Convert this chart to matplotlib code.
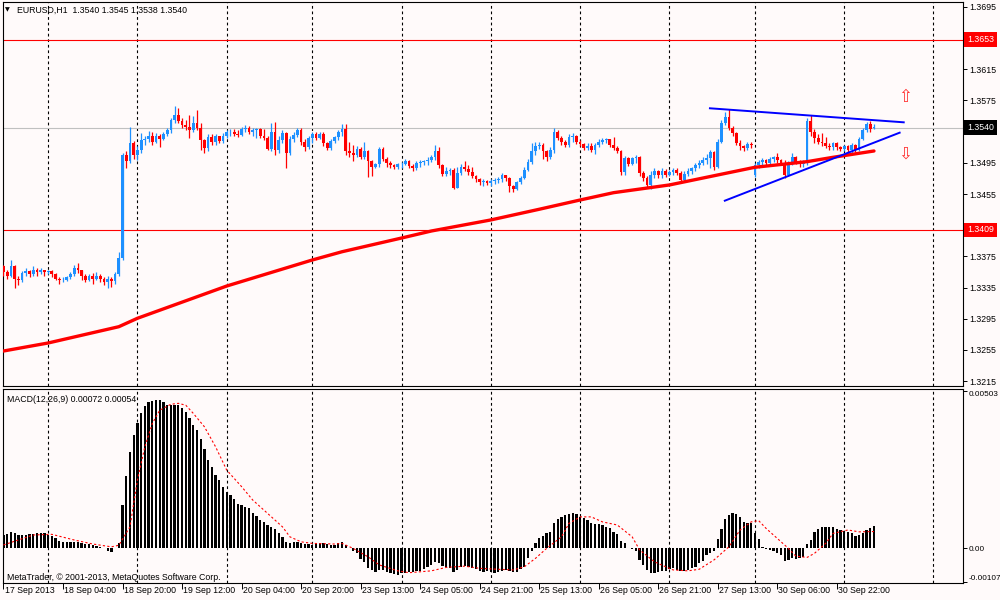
"""
EURUSD H1 chart (MetaTrader style): candles, moving average, trend lines,
price levels and a MACD(12,26,9) sub-window.
"""

import matplotlib

matplotlib.use("Agg")
import matplotlib.pyplot as plt
import matplotlib.transforms as mtransforms

plt.rcParams["font.family"] = ["Liberation Sans", "DejaVu Sans"]

# --------------------------------------------------------------------------- #
# Data. Bar index 0 = 17 Sep 2013 12:00.
# --------------------------------------------------------------------------- #
closes = [
    1.3355, 1.3350, 1.3362, 1.3346, 1.3345, 1.3354, 1.3356, 1.3352, 1.3358, 1.3355,
    1.3357, 1.3355, 1.3356, 1.3352, 1.3346, 1.3344, 1.3345, 1.3348, 1.3352, 1.3360,
    1.3357, 1.3350, 1.3345, 1.3350, 1.3346, 1.3350, 1.3346, 1.3342, 1.3346, 1.3343,
    1.3352, 1.3373, 1.3505, 1.3497, 1.3520, 1.3505, 1.3512, 1.3524, 1.3526, 1.3529,
    1.3522, 1.3530, 1.3525, 1.3532, 1.3537, 1.3550, 1.3556, 1.3549, 1.3544, 1.3541,
    1.3537, 1.3546, 1.3540, 1.3524, 1.3514, 1.3528, 1.3522, 1.3529, 1.3523, 1.3530,
    1.3534, 1.3535, 1.3532, 1.3531, 1.3538, 1.3540, 1.3535, 1.3537, 1.3538, 1.3530,
    1.3527, 1.3513, 1.3535, 1.3512, 1.3524, 1.3533, 1.3508, 1.3526, 1.3531, 1.3537,
    1.3522, 1.3515, 1.3527, 1.3532, 1.3527, 1.3532, 1.3520, 1.3514, 1.3523, 1.3528,
    1.3534, 1.3538, 1.3510, 1.3508, 1.3505, 1.3513, 1.3502, 1.3510, 1.3497, 1.3490,
    1.3493, 1.3513, 1.3500, 1.3495, 1.3492, 1.3490, 1.3493, 1.3494, 1.3497, 1.3491,
    1.3489, 1.3495, 1.3496, 1.3497, 1.3498, 1.3502, 1.3510, 1.3492, 1.3481, 1.3485,
    1.3486, 1.3463, 1.3482, 1.3490, 1.3487, 1.3483, 1.3478, 1.3474, 1.3470, 1.3472,
    1.3469, 1.3472, 1.3473, 1.3474, 1.3479, 1.3475, 1.3465, 1.3461, 1.3470, 1.3476,
    1.3486, 1.3496, 1.3510, 1.3517, 1.3518, 1.3510, 1.3503, 1.3512, 1.3534, 1.3527,
    1.3522, 1.3518, 1.3528, 1.3530, 1.3522, 1.3519, 1.3514, 1.3517, 1.3512, 1.3518,
    1.3522, 1.3524, 1.3525, 1.3518, 1.3514, 1.3510, 1.3483, 1.3501, 1.3494, 1.3501,
    1.3502, 1.3482, 1.3476, 1.3467, 1.3480, 1.3484, 1.3479, 1.3485, 1.3480, 1.3483,
    1.3486, 1.3482, 1.3473, 1.3481, 1.3485, 1.3488, 1.3492, 1.3495, 1.3499, 1.3501,
    1.3509, 1.3490, 1.3522, 1.3546, 1.3554, 1.3540, 1.3533, 1.3521, 1.3516, 1.3514,
    1.3519, 1.3518, 1.3492, 1.3496, 1.3498, 1.3495, 1.3500, 1.3502, 1.3498, 1.3495,
    1.3480, 1.3494, 1.3502, 1.3496, 1.3493, 1.3495, 1.3549, 1.3534, 1.3527, 1.3522,
    1.3520, 1.3516, 1.3515, 1.3520, 1.3515, 1.3513, 1.3516, 1.3511, 1.3518, 1.3512,
    1.3526, 1.3537, 1.3545, 1.3538, 1.3540,
]

highs = [
    1.3364, 1.3358, 1.3370, 1.3364, 1.3350, 1.3356, 1.3360, 1.3358, 1.3362, 1.3360,
    1.3360, 1.3358, 1.3358, 1.3357, 1.3354, 1.3348, 1.3348, 1.3350, 1.3355, 1.3364,
    1.3366, 1.3358, 1.3352, 1.3352, 1.3354, 1.3355, 1.3352, 1.3348, 1.3350, 1.3348,
    1.3355, 1.3380, 1.3508, 1.3510, 1.3541, 1.3523, 1.3516, 1.3533, 1.3530, 1.3536,
    1.3535, 1.3533, 1.3532, 1.3535, 1.3540, 1.3553, 1.3568, 1.3565, 1.3552, 1.3550,
    1.3556, 1.3555, 1.3563, 1.3546, 1.3526, 1.3532, 1.3532, 1.3532, 1.3530, 1.3533,
    1.3537, 1.3538, 1.3538, 1.3537, 1.3541, 1.3543, 1.3542, 1.3540, 1.3540, 1.3540,
    1.3539, 1.3530, 1.3546, 1.3548, 1.3530, 1.3537, 1.3535, 1.3530, 1.3535, 1.3540,
    1.3540, 1.3525, 1.3530, 1.3535, 1.3535, 1.3535, 1.3534, 1.3522, 1.3526, 1.3530,
    1.3537, 1.3545, 1.3545, 1.3522, 1.3518, 1.3516, 1.3515, 1.3522, 1.3512, 1.3499,
    1.3495, 1.3515, 1.3515, 1.3502, 1.3497, 1.3494, 1.3495, 1.3496, 1.3500, 1.3498,
    1.3494, 1.3497, 1.3498, 1.3499, 1.3502, 1.3505, 1.3518, 1.3515, 1.3494, 1.3490,
    1.3488, 1.3488, 1.3490, 1.3493, 1.3497, 1.3492, 1.3490, 1.3480, 1.3476, 1.3474,
    1.3473, 1.3474, 1.3476, 1.3477, 1.3482, 1.3480, 1.3477, 1.3467, 1.3472, 1.3478,
    1.3490, 1.3500, 1.3520, 1.3522, 1.3522, 1.3520, 1.3512, 1.3515, 1.3540, 1.3537,
    1.3530, 1.3524, 1.3532, 1.3533, 1.3531, 1.3524, 1.3521, 1.3520, 1.3521, 1.3520,
    1.3525, 1.3527, 1.3527, 1.3526, 1.3528, 1.3516, 1.3512, 1.3504, 1.3503, 1.3503,
    1.3505, 1.3504, 1.3485, 1.3478, 1.3484, 1.3488, 1.3486, 1.3488, 1.3487, 1.3486,
    1.3489, 1.3488, 1.3484, 1.3484, 1.3488, 1.3490, 1.3495, 1.3498, 1.3503, 1.3506,
    1.3512, 1.3510, 1.3525, 1.3550, 1.3560, 1.3564, 1.3542, 1.3535, 1.3524, 1.3518,
    1.3522, 1.3522, 1.3495, 1.3499, 1.3501, 1.3500, 1.3502, 1.3504, 1.3508, 1.3500,
    1.3498, 1.3497, 1.3508, 1.3504, 1.3498, 1.3498, 1.3552, 1.3557, 1.3538, 1.3532,
    1.3533, 1.3528, 1.3520, 1.3522, 1.3522, 1.3517, 1.3518, 1.3518, 1.3520, 1.3519,
    1.3528, 1.3540, 1.3548, 1.3549, 1.3545,
]

lows = [
    1.3350, 1.3346, 1.3348, 1.3335, 1.3338, 1.3342, 1.3350, 1.3348, 1.3350, 1.3350,
    1.3352, 1.3350, 1.3352, 1.3348, 1.3344, 1.3340, 1.3342, 1.3343, 1.3346, 1.3350,
    1.3354, 1.3345, 1.3342, 1.3343, 1.3340, 1.3344, 1.3342, 1.3338, 1.3335, 1.3336,
    1.3340, 1.3350, 1.3370, 1.3489, 1.3495, 1.3500, 1.3499, 1.3508, 1.3518, 1.3522,
    1.3518, 1.3520, 1.3515, 1.3524, 1.3530, 1.3533, 1.3546, 1.3546, 1.3540, 1.3537,
    1.3527, 1.3535, 1.3537, 1.3512, 1.3507, 1.3510, 1.3518, 1.3518, 1.3520, 1.3521,
    1.3527, 1.3529, 1.3529, 1.3528, 1.3529, 1.3534, 1.3532, 1.3530, 1.3527, 1.3527,
    1.3524, 1.3511, 1.3510, 1.3505, 1.3507, 1.3520, 1.3489, 1.3505, 1.3522, 1.3528,
    1.3518, 1.3510, 1.3513, 1.3520, 1.3524, 1.3525, 1.3517, 1.3511, 1.3512, 1.3520,
    1.3524, 1.3530, 1.3505, 1.3503, 1.3497, 1.3502, 1.3500, 1.3500, 1.3477, 1.3478,
    1.3488, 1.3490, 1.3497, 1.3490, 1.3488, 1.3487, 1.3487, 1.3489, 1.3492, 1.3488,
    1.3485, 1.3486, 1.3490, 1.3492, 1.3492, 1.3496, 1.3498, 1.3488, 1.3478, 1.3478,
    1.3480, 1.3462, 1.3463, 1.3480, 1.3484, 1.3480, 1.3475, 1.3470, 1.3467, 1.3465,
    1.3466, 1.3465, 1.3468, 1.3469, 1.3470, 1.3472, 1.3458, 1.3458, 1.3460, 1.3468,
    1.3474, 1.3484, 1.3494, 1.3505, 1.3513, 1.3500, 1.3497, 1.3500, 1.3508, 1.3524,
    1.3518, 1.3515, 1.3515, 1.3522, 1.3519, 1.3516, 1.3511, 1.3512, 1.3509, 1.3506,
    1.3515, 1.3519, 1.3520, 1.3515, 1.3511, 1.3507, 1.3480, 1.3480, 1.3491, 1.3492,
    1.3495, 1.3478, 1.3472, 1.3463, 1.3462, 1.3475, 1.3476, 1.3476, 1.3477, 1.3478,
    1.3480, 1.3479, 1.3470, 1.3470, 1.3478, 1.3481, 1.3484, 1.3488, 1.3492, 1.3494,
    1.3489, 1.3486, 1.3488, 1.3520, 1.3544, 1.3537, 1.3530, 1.3518, 1.3512, 1.3510,
    1.3512, 1.3514, 1.3477, 1.3489, 1.3492, 1.3492, 1.3493, 1.3496, 1.3495, 1.3492,
    1.3476, 1.3478, 1.3492, 1.3493, 1.3490, 1.3490, 1.3492, 1.3530, 1.3520, 1.3519,
    1.3516, 1.3514, 1.3512, 1.3512, 1.3512, 1.3510, 1.3510, 1.3508, 1.3508, 1.3509,
    1.3510, 1.3524, 1.3535, 1.3535, 1.3538,
]

# opens equal the previous close except for these bars (first bar, weekend gap, last bar)
special_opens = {0: 1.3362, 202: 1.3479, 234: 1.3540}

# moving average read at a few bars
ma_bars = [0, 12, 31, 36, 60, 83, 91, 107, 115, 131, 144, 155, 164, 179, 202, 216, 223, 234]
ma_values = [1.32535, 1.32638, 1.32847, 1.32955, 1.33369, 1.33703, 1.33809, 1.33985,
             1.34075, 1.34217, 1.34354, 1.34473, 1.34567, 1.34666, 1.34893, 1.34965,
             1.35021, 1.35102]

# MACD main line per bar, in units of 0.00001
macd_points = [
    43, 46, 51, 48, 43, 43, 43, 46, 46, 48,
    48, 48, 43, 40, 32, 25, 21, 19, 19, 21,
    21, 16, 14, 13, 11, 9, 3, 1, -9, -11,
    2, 16, 139, 232, 310, 363, 403, 433, 456, 470,
    473, 475, 475, 470, 459, 459, 459, 459, 449, 436,
    417, 395, 379, 352, 320, 283, 260, 235, 219, 198,
    182, 171, 158, 142, 139, 134, 128, 114, 104, 91,
    85, 75, 69, 61, 50, 37, 19, 18, 19, 21,
    16, 14, 14, 11, 16, 18, 16, 14, 11, 12,
    16, 21, 11, 0, -7, -14, -35, -43, -64, -69,
    -75, -69, -69, -75, -78, -82, -85, -80, -78, -75,
    -75, -72, -72, -67, -61, -53, -43, -48, -57, -61,
    -62, -75, -69, -61, -57, -59, -64, -67, -72, -75,
    -73, -75, -78, -75, -72, -69, -72, -75, -75, -67,
    -59, -32, -7, 16, 32, 40, 48, 53, 82, 93,
    101, 107, 110, 112, 110, 101, 96, 91, 80, 78,
    78, 75, 69, 64, 53, 46, 25, 16, 2, -3,
    -7, -37, -53, -69, -78, -78, -75, -73, -71, -67,
    -64, -69, -72, -72, -69, -64, -59, -48, -40, -21,
    -14, -7, 29, 61, 93, 107, 114, 110, 101, 85,
    80, 82, 50, 29, 3, -3, -5, -7, -14, -21,
    -40, -37, -32, -35, -32, -29, 14, 27, 53, 61,
    67, 67, 67, 67, 61, 59, 57, 53, 48, 40,
    43, 50, 59, 64, 72,
]

# MACD signal line read at a few bars, in units of 0.00001
signal_bars = [0, 8, 13, 19, 24, 29, 31, 34, 36, 38, 40, 42, 45, 47, 49, 51, 54, 57,
               60, 64, 67, 71, 75, 77, 80, 83, 89, 91, 94, 98, 101, 106, 109, 115,
               119, 124, 128, 133, 137, 140, 143, 146, 150, 152, 155, 158, 161, 165,
               169, 171, 175, 178, 180, 184, 187, 191, 195, 198, 201, 203, 205, 208,
               211, 213, 216, 218, 221, 223, 227, 230, 234]
signal_points = [11, 43, 45, 27, 14, 5, 10, 69, 219, 326, 400, 443, 462, 465, 459, 433,
                 390, 326, 251, 198, 155, 112, 69, 37, 21, 16, 14, 16, 0, -27, -53,
                 -72, -78, -72, -61, -57, -64, -67, -69, -59, -32, 0, 37, 80, 101, 101,
                 85, 75, 37, -5, -43, -59, -69, -72, -67, -37, 5, 59, 85, 89, 64, 32,
                 0, -25, -29, -16, 16, 48, 59, 53, 54]

# drawn objects
upper_trend_bars = [189.9, 242.0]
upper_trend_prices = [1.35650, 1.35470]
lower_trend_bars = [193.9, 240.9]
lower_trend_prices = [1.34464, 1.35337]
resistance_level = 1.3653
support_level = 1.3409
bid_price = 1.3540
arrow_bar = 242.3
arrow_up_price = 1.35795
arrow_down_price = 1.35063

price_ticks = [1.3695, 1.3655, 1.3615, 1.3575, 1.3535, 1.3495, 1.3455, 1.3415,
               1.3375, 1.3335, 1.3295, 1.3255, 1.3215]
hidden_ticks = [1.3655, 1.3535, 1.3415]   # covered by the price tags
day_grid_bars = [12, 36, 60, 83, 107, 131, 155, 179, 202, 226, 250]
time_label_bars = [0, 16, 32, 48, 64, 80, 96, 112, 128, 144, 160, 176, 192, 208, 224]
time_labels = ["17 Sep 2013", "18 Sep 04:00", "18 Sep 20:00", "19 Sep 12:00",
               "20 Sep 04:00", "20 Sep 20:00", "23 Sep 13:00", "24 Sep 05:00",
               "24 Sep 21:00", "25 Sep 13:00", "26 Sep 05:00", "26 Sep 21:00",
               "27 Sep 13:00", "30 Sep 06:00", "30 Sep 22:00"]

BG = "#fffafa"
BULL = "#1e90ff"
BEAR = "#ff0000"
W, H = 1000, 600
FS = 6.3


def style_axis(a):
    a.set_facecolor(BG)
    for s in a.spines.values():
        s.set_color("black")
        s.set_linewidth(0.8)
    a.yaxis.tick_right()
    a.tick_params(axis="y", direction="out", length=3, width=0.7,
                  labelsize=FS, pad=2, colors="black")
    for g in day_grid_bars:
        a.axvline(g, color="black", lw=0.8, linestyle=(0, (2.5, 2.5)), zorder=1)
    a.set_xlim(-0.215, 257.85)


def price_tag(a, price, face):
    trans = mtransforms.blended_transform_factory(a.transAxes, a.transData)
    a.text(1.0045, price, f"{price:.4f}", transform=trans, ha="left", va="center",
           fontsize=FS, color="white", clip_on=False, zorder=10,
           bbox=dict(boxstyle="square,pad=0.32", fc=face, ec="none"))


fig = plt.figure(figsize=(W / 100, H / 100), dpi=100, facecolor=BG)
ax = fig.add_axes([2.7 / W, 1 - 386 / H, 960 / W, 384 / H])
am = fig.add_axes([2.7 / W, 1 - 582.7 / H, 960 / W, 193.4 / H])

# --- price window ---
style_axis(ax)
ax.set_ylim(1.32086, 1.37014)
ax.set_xticks([])
ax.set_yticks(price_ticks)
ax.set_yticklabels(["" if t in hidden_ticks else f"{t:.4f}" for t in price_ticks])

ax.axhline(bid_price, color="#c0c0c0", lw=0.8, zorder=2)
ax.axhline(resistance_level, color="#ff0000", lw=0.8, zorder=2)
ax.axhline(support_level, color="#ff0000", lw=0.8, zorder=2)

bars = list(range(len(closes)))
opens = [special_opens.get(i, closes[i - 1] if i else closes[0]) for i in bars]
colors = [BULL if c >= o else BEAR for o, c in zip(opens, closes)]
ax.vlines(bars, lows, highs, colors=colors, lw=0.9, zorder=3)
ax.bar(bars, [max(abs(c - o), 0.00008) for o, c in zip(opens, closes)],
       bottom=[min(o, c) for o, c in zip(opens, closes)],
       width=0.75, color=colors, lw=0, zorder=3)

ax.plot(ma_bars, ma_values, color="#ff0000", lw=2.4, solid_capstyle="round", zorder=4)
ax.plot(upper_trend_bars, upper_trend_prices, color="#0000ff", lw=1.4, zorder=5)
ax.plot(lower_trend_bars, lower_trend_prices, color="#0000ff", lw=1.4, zorder=5)
ax.text(arrow_bar, arrow_up_price, "\u21e7", color="#ff3030", fontsize=12,
        ha="center", va="center", family="DejaVu Sans", zorder=5)
ax.text(arrow_bar, arrow_down_price, "\u21e9", color="#ff3030", fontsize=12,
        ha="center", va="center", family="DejaVu Sans", zorder=5)

price_tag(ax, resistance_level, "#ff0000")
price_tag(ax, support_level, "#ff0000")
price_tag(ax, bid_price, "#000000")

# --- MACD window ---
style_axis(am)
am.set_ylim(-0.00110, 0.00510)
am.bar(bars, [v * 1e-5 for v in macd_points], width=0.62, color="black", lw=0, zorder=3)
am.plot(signal_bars, [v * 1e-5 for v in signal_points], color="#ff0000", lw=0.8,
        linestyle=(0, (2, 2)), zorder=4)
am.set_yticks([0.00503, 0.0, -0.00107])
labels = am.set_yticklabels(["0.00503", "0.00", "-0.00107"])
labels[0].set_va("top")
labels[2].set_va("bottom")
am.tick_params(axis="y", labelsize=5.9, pad=1.2)
am.set_xticks(time_label_bars)
am.set_xticklabels([])
am.tick_params(axis="x", direction="out", length=4, width=0.7, colors="black")
xtrans = mtransforms.blended_transform_factory(am.transData, am.transAxes)
for b, lab in zip(time_label_bars, time_labels):
    am.text(b + 0.3, -0.018, lab, transform=xtrans, ha="left", va="top",
            fontsize=FS, color="black", clip_on=False)

# --- window captions ---
fig.text(5 / W, 1 - 10 / H, "\u25bc", fontsize=4.5, va="center", ha="left",
         family="DejaVu Sans", color="black")
fig.text(17 / W, 1 - 10 / H, "EURUSD,H1  1.3540 1.3545 1.3538 1.3540",
         fontsize=FS, va="center", ha="left", color="black")
fig.text(7 / W, 1 - 399 / H, "MACD(12,26,9) 0.00072 0.00054",
         fontsize=FS, va="center", ha="left", color="black")
fig.text(7 / W, 1 - 577 / H, "MetaTrader, \u00a9 2001-2013, MetaQuotes Software Corp.",
         fontsize=FS, va="center", ha="left", color="black")

fig.savefig("out.png", dpi=100, facecolor=BG)
